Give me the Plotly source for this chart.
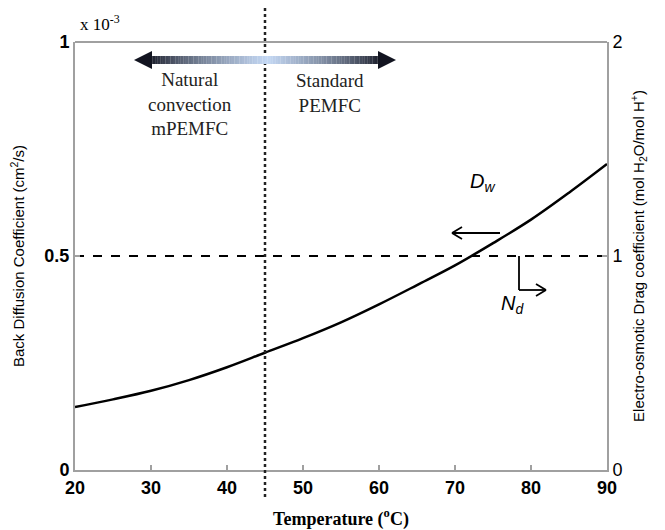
import plotly.graph_objects as go

# ---- data ----
temperature = [20, 25, 30, 35, 40, 45, 50, 55, 60, 65, 70, 75, 80, 85, 90]
back_diffusion = [0.147e-3, 0.165e-3, 0.185e-3, 0.210e-3, 0.240e-3, 0.274e-3, 0.308e-3,
                  0.345e-3, 0.387e-3, 0.432e-3, 0.478e-3, 0.530e-3, 0.585e-3, 0.648e-3, 0.715e-3]
drag_temperature = [20, 90]
drag_coefficient = [1.0, 1.0]
boundary_temperature = 45
x_ticks = [20, 30, 40, 50, 60, 70, 80, 90]
y_ticks_left = [0, 0.5e-3, 1e-3]
y_tick_labels_left = ["0", "0.5", "1"]
y_ticks_right = [0, 1, 2]

# page offset (browser body margin) and plot geometry in page pixels
OFF = 8
L, R, T, B = 75, 607, 42, 470
XMIN, XMAX, YMAX = 20, 90, 1e-3


def px_x(p):
    return XMIN + (p - L) / (R - L) * (XMAX - XMIN)


def px_y(p):
    return (B - p) / (B - T) * YMAX


def px_py(p):
    return (B - p) / (B - T)


fig = go.Figure()

fig.add_trace(go.Scatter(x=temperature, y=back_diffusion, mode="lines",
                         line=dict(color="black", width=2.5, shape="spline"),
                         showlegend=False, hoverinfo="skip"))
fig.add_trace(go.Scatter(x=drag_temperature, y=drag_coefficient, mode="lines", yaxis="y2",
                         line=dict(color="black", width=2, dash="dash"),
                         showlegend=False, hoverinfo="skip"))

shapes = []
# dotted boundary line
shapes.append(dict(type="line", xref="x", yref="paper", x0=boundary_temperature, x1=boundary_temperature,
                   y0=px_py(497), y1=px_py(8), line=dict(color="#222", width=2.5, dash="dot")))


# gradient double arrow
def lerp(c1, c2, t):
    return tuple(int(round(a + (b - a) * t)) for a, b in zip(c1, c2))


dark = (18, 20, 32)
light = (196, 216, 244)
x_start_px, x_end_px, mid_px = 150, 380, 267
y_c = 60
n = 90
for i in range(n):
    a = x_start_px + (x_end_px - x_start_px) * i / n
    b = x_start_px + (x_end_px - x_start_px) * (i + 1) / n
    m = (a + b) / 2
    if m < mid_px:
        t = (m - x_start_px) / (mid_px - x_start_px)
    else:
        t = (x_end_px - m) / (x_end_px - mid_px)
    t = max(0.0, min(1.0, t)) ** 0.7
    c = lerp(dark, light, t)
    shapes.append(dict(type="rect", xref="x", yref="paper", x0=px_x(a), x1=px_x(b) + 0.02,
                       y0=px_py(y_c + 4), y1=px_py(y_c - 4), line=dict(width=0),
                       fillcolor="rgb(%d,%d,%d)" % c))
# arrowheads
shapes.append(dict(type="path", xref="x", yref="paper", fillcolor="rgb(18,20,32)", line=dict(width=0),
                   path="M %f,%f L %f,%f L %f,%f Z" % (px_x(134), px_py(y_c), px_x(152), px_py(y_c - 9),
                                                      px_x(152), px_py(y_c + 9))))
shapes.append(dict(type="path", xref="x", yref="paper", fillcolor="rgb(18,20,32)", line=dict(width=0),
                   path="M %f,%f L %f,%f L %f,%f Z" % (px_x(396), px_py(y_c), px_x(378), px_py(y_c - 9),
                                                      px_x(378), px_py(y_c + 9))))

# D_w arrow
ln = dict(color="black", width=1.8)
shapes.append(dict(type="line", xref="x", yref="y", x0=px_x(500), x1=px_x(452), y0=px_y(233), y1=px_y(233), line=ln))
shapes.append(dict(type="line", xref="x", yref="y", x0=px_x(452), x1=px_x(462), y0=px_y(233), y1=px_y(227), line=ln))
shapes.append(dict(type="line", xref="x", yref="y", x0=px_x(452), x1=px_x(462), y0=px_y(233), y1=px_y(239), line=ln))
# N_d arrow
shapes.append(dict(type="line", xref="x", yref="y", x0=px_x(519), x1=px_x(519), y0=px_y(256), y1=px_y(290), line=ln))
shapes.append(dict(type="line", xref="x", yref="y", x0=px_x(519), x1=px_x(546), y0=px_y(290), y1=px_y(290), line=ln))
shapes.append(dict(type="line", xref="x", yref="y", x0=px_x(546), x1=px_x(536), y0=px_y(290), y1=px_y(284), line=ln))
shapes.append(dict(type="line", xref="x", yref="y", x0=px_x(546), x1=px_x(536), y0=px_y(290), y1=px_y(296), line=ln))

serif = dict(family="Liberation Serif, Times New Roman, serif", size=19, color="#222")
annotations = [
    dict(x=px_x(190), y=px_py(104), xref="x", yref="paper", showarrow=False, xanchor="center", yanchor="middle",
         text="Natural<br>convection<br>mPEMFC", font=serif, align="center"),
    dict(x=px_x(330), y=px_py(93), xref="x", yref="paper", showarrow=False, xanchor="center", yanchor="middle",
         text="Standard<br>PEMFC", font=serif, align="center"),
    dict(x=px_x(482), y=px_py(182), xref="x", yref="paper", showarrow=False, xanchor="center", yanchor="middle",
         text="<i>D<sub>w</sub></i>", font=dict(family="Liberation Sans, Arial", size=20, color="black")),
    dict(x=px_x(512), y=px_py(305), xref="x", yref="paper", showarrow=False, xanchor="center", yanchor="middle",
         text="<i>N<sub>d</sub></i>", font=dict(family="Liberation Sans, Arial", size=20, color="black")),
    dict(x=px_x(78), y=px_py(23), xref="x", yref="paper", xanchor="left", yanchor="middle",
         showarrow=False, text="x 10<sup>-3</sup>",
         font=dict(family="Liberation Serif, Times New Roman, serif", size=17, color="black")),
]

tickfont = dict(family="Liberation Sans Narrow, Liberation Sans, Arial", size=18, color="black", weight="bold")
axis_common = dict(showline=True, linecolor="#a0a0a0", linewidth=2, ticks="inside", ticklen=5,
                   tickcolor="#a0a0a0", tickwidth=1.5, showgrid=False, zeroline=False, mirror=False,
                   automargin=False)

W, H = 665 - OFF, 530 - OFF
fig.update_layout(
    width=W, height=H,
    margin=dict(l=L - OFF, r=665 - R, t=T - OFF, b=530 - B),
    plot_bgcolor="white", paper_bgcolor="white",
    shapes=shapes, annotations=annotations,
    xaxis=dict(range=[XMIN, XMAX], tickvals=x_ticks, tickfont=tickfont, **axis_common,
               title=dict(text="<b>Temperature (<sup>o</sup>C)</b>", standoff=18,
                          font=dict(family="Liberation Serif, Times New Roman, serif", size=18, color="black"))),
    yaxis=dict(range=[0, YMAX], tickvals=y_ticks_left, ticktext=y_tick_labels_left, tickfont=tickfont,
               **axis_common,
               title=dict(text="Back Diffusion Coefficient (cm<sup>2</sup>/s)", standoff=20,
                          font=dict(family="Liberation Sans, Arial", size=15, color="black"))),
    yaxis2=dict(range=[0, 2], tickvals=y_ticks_right, overlaying="y", side="right",
                tickfont=dict(family="Liberation Sans, Arial", size=18, color="black"),
                **axis_common,
                title=dict(text="Electro-osmotic Drag coefficient (mol H<sub>2</sub>O/mol H<sup>+</sup>)",
                           standoff=12, font=dict(family="Liberation Sans, Arial", size=15, color="black"))),
)
# top border line like reference
fig.add_shape(type="line", xref="paper", yref="paper", x0=0, x1=1, y0=1, y1=1,
              line=dict(color="#a0a0a0", width=2))

fig.write_html("out.html")
